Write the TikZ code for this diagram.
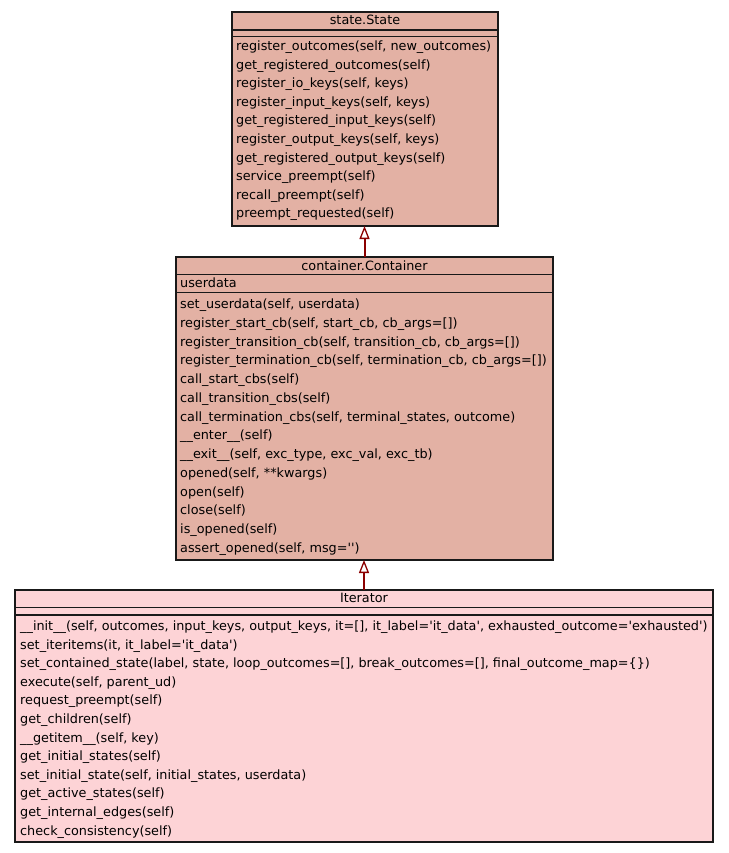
\documentclass[tikz,border=0pt]{standalone}
\usepackage{fontspec}
\setmainfont{DejaVu Sans}
\usetikzlibrary{arrows.meta}
\definecolor{statefill}{RGB}{227,177,164}
\definecolor{iterfill}{RGB}{253,211,214}
\definecolor{edgered}{RGB}{139,0,0}
\newcommand{\sq}{\textquotesingle}
\tikzset{
  classbox/.style={draw=black!90, line width=1.2pt, inner sep=0pt, outer sep=0pt, anchor=north west},
  member/.style={anchor=west, inner sep=0pt, text height=9.5pt, text depth=2.5pt, font=\fontsize{12.8}{15}\selectfont},
  ctitle/.style={anchor=center, inner sep=0pt, text height=9.5pt, text depth=2.5pt, font=\fontsize{12.8}{15}\selectfont},
  divider/.style={draw=black!90, line width=1.2pt},
  inherit/.style={draw=edgered, line width=2pt, -{Triangle[open, length=13pt, width=10pt, line width=1.3pt]}}
}
\begin{document}
\begin{tikzpicture}[x=1pt,y=-1pt]
\useasboundingbox (0,0) rectangle (728,853);
% ---------------- state.State
\node[classbox, fill=statefill, minimum width=266pt, minimum height=214pt] (state) at (232,12) {};
\node[ctitle] (stitle) at (365,21.5) {state.State};
\draw[divider] (232,30) -- (498,30);
\draw[divider] (232,36.5) -- (498,36.5);
\foreach \t [count=\i] in {
  {register\_outcomes(self, new\_outcomes)},
  {get\_registered\_outcomes(self)},
  {register\_io\_keys(self, keys)},
  {register\_input\_keys(self, keys)},
  {get\_registered\_input\_keys(self)},
  {register\_output\_keys(self, keys)},
  {get\_registered\_output\_keys(self)},
  {service\_preempt(self)},
  {recall\_preempt(self)},
  {preempt\_requested(self)}}
  \node[member] (s\i) at (236,28.4+\i*18.6) {\t};
% ---------------- container.Container
\node[classbox, fill=statefill, minimum width=377pt, minimum height=303pt] (container) at (176,257) {};
\node[ctitle] (ctitle) at (364.5,266.5) {container.Container};
\draw[divider] (176,274.5) -- (553,274.5);
\node[member] (cattr) at (180,284) {userdata};
\draw[divider] (176,292.5) -- (553,292.5);
\foreach \t [count=\i] in {
  {set\_userdata(self, userdata)},
  {register\_start\_cb(self, start\_cb, cb\_args=[])},
  {register\_transition\_cb(self, transition\_cb, cb\_args=[])},
  {register\_termination\_cb(self, termination\_cb, cb\_args=[])},
  {call\_start\_cbs(self)},
  {call\_transition\_cbs(self)},
  {call\_termination\_cbs(self, terminal\_states, outcome)},
  {\_\_enter\_\_(self)},
  {\_\_exit\_\_(self, exc\_type, exc\_val, exc\_tb)},
  {opened(self, **kwargs)},
  {open(self)},
  {close(self)},
  {is\_opened(self)},
  {assert\_opened(self, msg=\sq\sq)}}
  \node[member] (c\i) at (180,286.2+\i*18.77) {\t};
% ---------------- Iterator
\node[classbox, fill=iterfill, minimum width=698pt, minimum height=252pt] (iter) at (15,590) {};
\node[ctitle] (ititle) at (364,599) {Iterator};
\draw[divider] (15,607.5) -- (713,607.5);
\draw[divider] (15,615) -- (713,615);
\foreach \t [count=\i] in {
  {\_\_init\_\_(self, outcomes, input\_keys, output\_keys, it=[], it\_label=\sq it\_data\sq, exhausted\_outcome=\sq exhausted\sq)},
  {set\_iteritems(it, it\_label=\sq it\_data\sq)},
  {set\_contained\_state(label, state, loop\_outcomes=[], break\_outcomes=[], final\_outcome\_map=\{\})},
  {execute(self, parent\_ud)},
  {request\_preempt(self)},
  {get\_children(self)},
  {\_\_getitem\_\_(self, key)},
  {get\_initial\_states(self)},
  {set\_initial\_state(self, initial\_states, userdata)},
  {get\_active\_states(self)},
  {get\_internal\_edges(self)},
  {check\_consistency(self)}}
  \node[member] (i\i) at (20,608.4+\i*18.6) {\t};
% ---------------- inheritance
\draw[inherit] (container.north) -- (container.north |- state.south);
\draw[inherit] (iter.north) -- (iter.north |- container.south);
\end{tikzpicture}
\end{document}
